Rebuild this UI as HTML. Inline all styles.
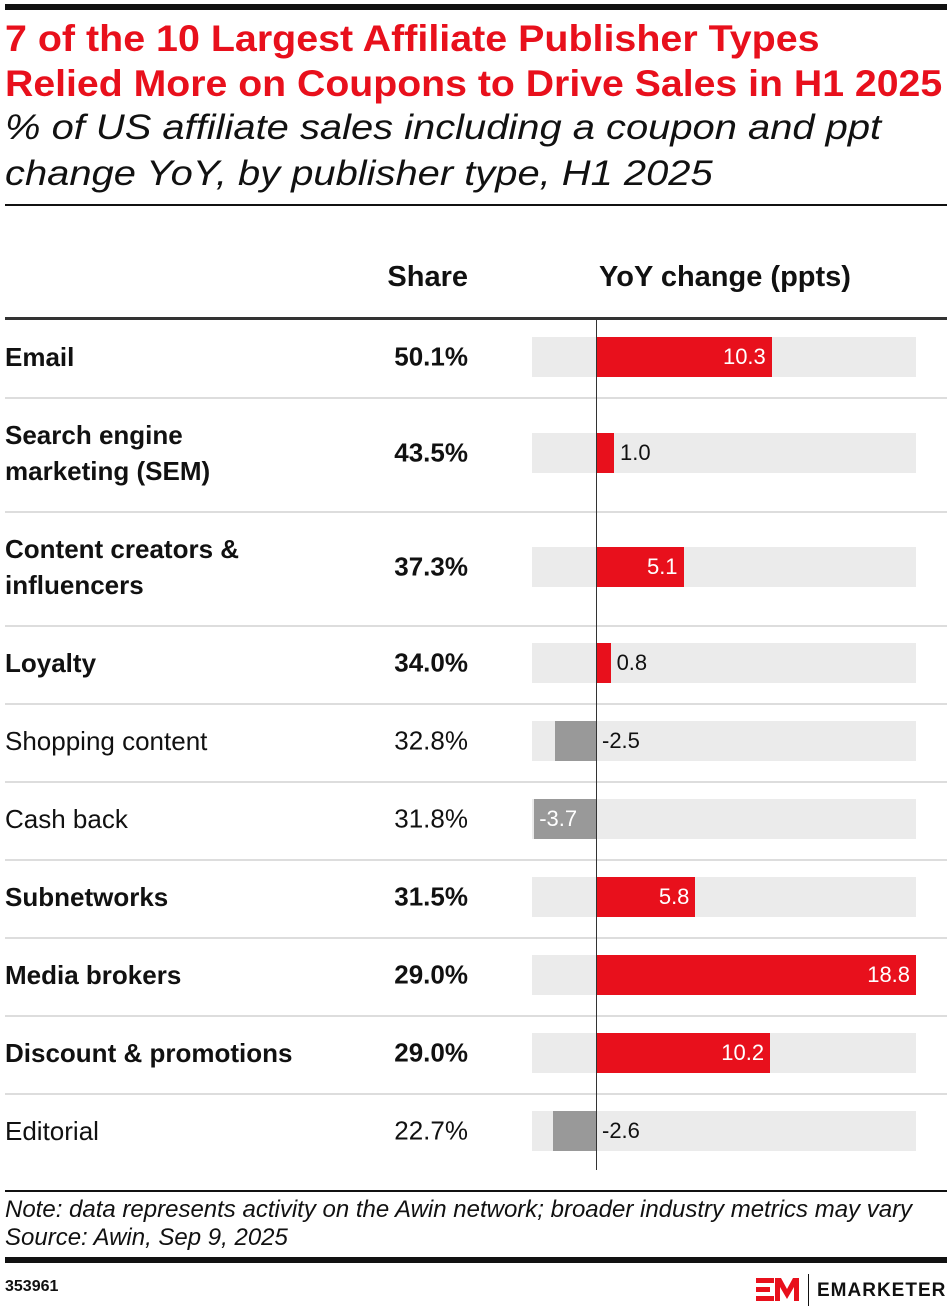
<!DOCTYPE html>
<html><head><meta charset="utf-8"><style>
body{margin:0;width:952px;height:1310px;background:#fff;font-family:"Liberation Sans",sans-serif;position:relative;overflow:hidden;color:#111}
div{position:absolute}
.t{color:#e8101c;font-weight:bold;font-size:37px;left:5px;white-space:nowrap;transform-origin:0 0}
.s{font-style:italic;font-size:35px;left:5px;white-space:nowrap;transform-origin:0 0}
.lab{left:5px;font-size:26px;line-height:36px;transform:translateY(-50%);white-space:nowrap}
.b{font-weight:bold}
.sh{left:340px;width:128px;text-align:right;font-size:26px;transform:translateY(-50%)}
.bg{left:532px;width:384px;height:40px;background:#ebebeb}
.bar{height:40px}
.v{font-size:22px;line-height:40px}
.sep{left:5px;width:942px;height:2px;background:#ddd}
</style></head><body>
<div style="left:5px;top:4px;width:942px;height:6px;background:#111"></div>
<div class="t" style="top:18px;transform:scaleX(1.065)">7 of the 10 Largest Affiliate Publisher Types</div>
<div class="t" style="top:63px;transform:scaleX(1.06)">Relied More on Coupons to Drive Sales in H1 2025</div>
<div class="s" style="top:108px;transform:scaleX(1.14)">% of US affiliate sales including a coupon and ppt</div>
<div class="s" style="top:154px;transform:scaleX(1.14)">change YoY, by publisher type, H1 2025</div>
<div style="left:5px;top:204px;width:942px;height:2px;background:#111"></div>
<div style="left:300px;width:168px;text-align:right;top:261px;font-size:29px;font-weight:bold">Share</div>
<div style="left:540px;width:370px;text-align:center;top:261px;font-size:29px;font-weight:bold">YoY change (ppts)</div>
<div style="left:5px;top:317px;width:942px;height:3px;background:#333"></div>
<div id="rows"></div>
<div style="left:596px;top:320px;width:1px;height:850px;background:#333"></div>
<div style="left:5px;top:1190px;width:942px;height:2px;background:#111"></div>
<div style="left:5px;top:1196px;font-size:24px;font-style:italic;white-space:nowrap">Note: data represents activity on the Awin network; broader industry metrics may vary</div>
<div style="left:5px;top:1224px;font-size:24px;font-style:italic">Source: Awin, Sep 9, 2025</div>
<div style="left:5px;top:1257px;width:942px;height:6px;background:#111"></div>
<div style="left:5px;top:1278px;font-size:16px;font-weight:bold">353961</div>
<div style="left:756px;top:1276px;width:44px;height:28px">
<svg width="44" height="28"><path d="M0 2h18v5H0zM0 11h14v5H0zM0 20h18v5H0z" fill="#e8101c"/><path d="M19 25V2h6l6 11 6-11h6v23h-5V11l-7 12-7-12v14z" fill="#e8101c"/></svg></div>
<div style="left:808px;top:1274px;width:1px;height:32px;background:#111"></div>
<div style="left:817px;top:1280px;font-size:19px;font-weight:bold;letter-spacing:1px">EMARKETER</div>
<script>
var d=[["Email",1,"50.1%",10.3,357,0],["Search engine<br>marketing (SEM)",1,"43.5%",1.0,453,397],["Content creators &amp;<br>influencers",1,"37.3%",5.1,567,511],["Loyalty",1,"34.0%",0.8,663,625],["Shopping content",0,"32.8%",-2.5,741,703],["Cash back",0,"31.8%",-3.7,819,781],["Subnetworks",1,"31.5%",5.8,897,859],["Media brokers",1,"29.0%",18.8,975,937],["Discount &amp; promotions",1,"29.0%",10.2,1053,1015],["Editorial",0,"22.7%",-2.6,1131,1093]];
var h="",z=597,k=16.97;
d.forEach(function(r){var c=r[4],b=r[1]?" b":"";
if(r[5])h+='<div class="sep" style="top:'+r[5]+'px"></div>';
h+='<div class="lab'+b+'" style="top:'+c+'px">'+r[0]+'</div>';
h+='<div class="sh'+b+'" style="top:'+c+'px">'+r[2]+'</div>';
h+='<div class="bg" style="top:'+(c-20)+'px"></div>';
var w=Math.abs(r[3])*k,pos=r[3]>=0,l=pos?z:z-w,col=pos?"#e8101c":"#999";
h+='<div class="bar" style="top:'+(c-20)+'px;left:'+l+'px;width:'+w+'px;background:'+col+'"></div>';
var v=r[3].toFixed(1),inside=pos?w>50:w>60;
if(inside){h+='<div class="v" style="color:#fff;top:'+(c-20)+'px;'+(pos?'left:'+(z+w-62)+'px;width:56px;text-align:right':'left:'+(l+5)+'px')+'">'+v+'</div>';}
else{h+='<div class="v" style="top:'+(c-20)+'px;left:'+(pos?z+w+6:z+5)+'px">'+v+'</div>';}
});
document.getElementById("rows").outerHTML=h;
</script>
</body></html>
